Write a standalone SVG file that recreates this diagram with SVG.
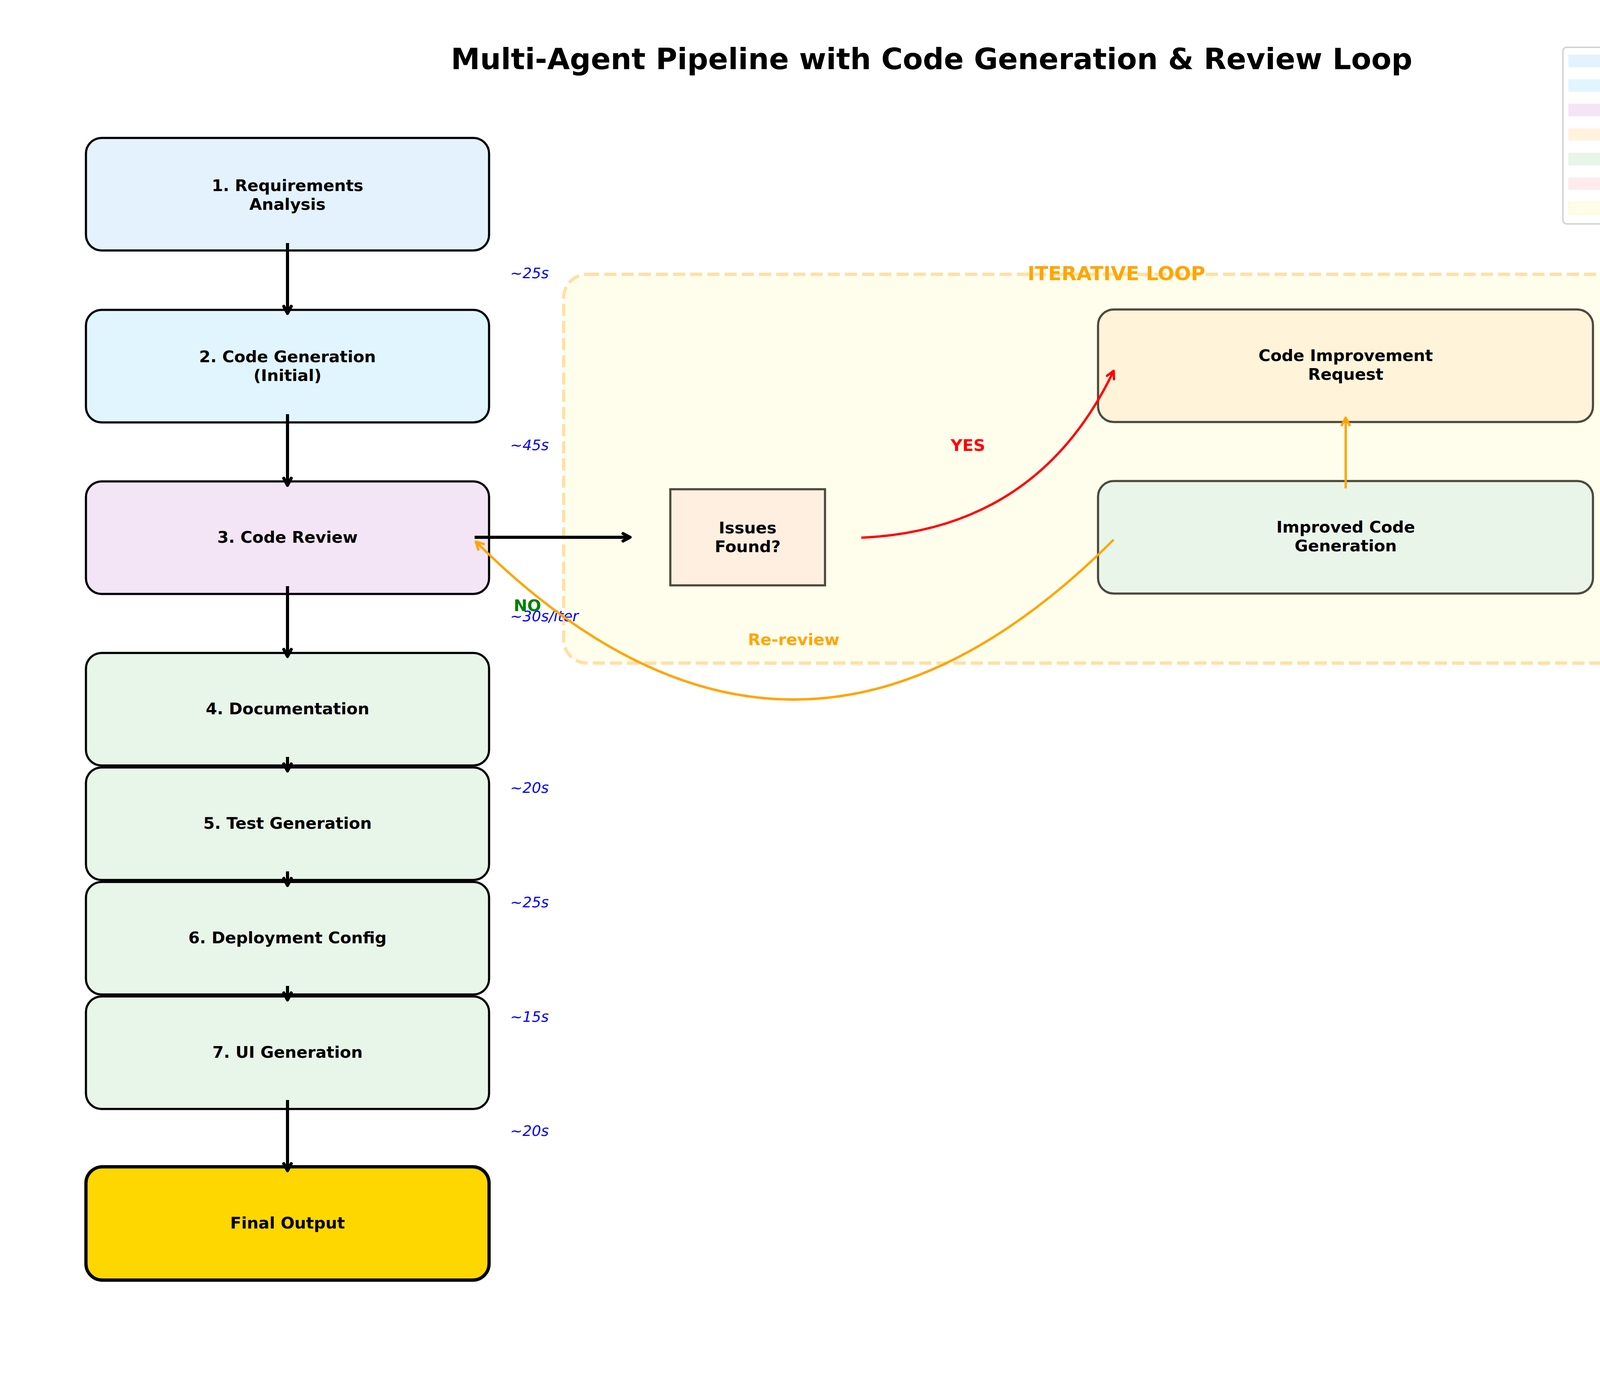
<svg xmlns="http://www.w3.org/2000/svg" width="4770" height="3570" viewBox="0 0 4770 3570">
<style>
text{font-family:"DejaVu Sans","Liberation Sans",sans-serif}
.node{stroke:#000;stroke-width:5.5}
.inner{stroke:#4C4A3C;stroke-width:5.5}
.lbl{font-size:41.67px;font-weight:bold;fill:#000;text-anchor:middle}
.time{font-size:37.5px;font-style:italic;fill:#0000FF}
.leg{font-size:41.67px;fill:#000}
.conn{fill:none;stroke-width:8;stroke-linecap:butt}
.conn-c{fill:none;stroke-width:6;stroke-linecap:butt}
</style>
<defs>
<marker id="ah-black" viewBox="-32 -20 40 40" markerWidth="40" markerHeight="40" refX="0" refY="0" orient="auto" markerUnits="userSpaceOnUse"><path d="M-18,-9.5 L0,0 L-18,9.5" fill="none" stroke="#000" stroke-width="8" stroke-linejoin="round" stroke-linecap="round"/></marker>
<marker id="ah-red" viewBox="-32 -20 40 40" markerWidth="40" markerHeight="40" refX="0" refY="0" orient="auto" markerUnits="userSpaceOnUse"><path d="M-19,-10 L0,0 L-19,10" fill="none" stroke="#FF0000" stroke-width="6" stroke-linejoin="round" stroke-linecap="round"/></marker>
<marker id="ah-orange" viewBox="-32 -20 40 40" markerWidth="40" markerHeight="40" refX="0" refY="0" orient="auto" markerUnits="userSpaceOnUse"><path d="M-19,-10 L0,0 L-19,10" fill="none" stroke="#FFA500" stroke-width="6" stroke-linejoin="round" stroke-linecap="round"/></marker>
</defs>
<rect width="4770" height="3570" fill="#FFFFFF"/>

<text x="2385" y="177" font-size="75" font-weight="bold" text-anchor="middle" fill="#000">Multi-Agent Pipeline with Code Generation &amp; Review Loop</text>

<g id="iterative-loop">
<rect x="1443" y="702" width="2779" height="995" rx="60" fill="#FFFDEC" stroke="#FFE0A5" stroke-width="8.3" stroke-dasharray="31 13"/>
<text x="2858" y="717" font-size="50" font-weight="bold" text-anchor="middle" fill="#FFA500">ITERATIVE LOOP</text>
</g>

<g id="node-requirements">
<rect class="node" x="220" y="353" width="1032" height="288" rx="40" fill="#E3F2FD"/>
<text class="lbl" x="736" y="489">1. Requirements</text>
<text class="lbl" x="736" y="537">Analysis</text>
</g>
<g id="node-codegen">
<rect class="node" x="220" y="793" width="1032" height="288" rx="40" fill="#E1F5FE"/>
<text class="lbl" x="736" y="927">2. Code Generation</text>
<text class="lbl" x="736" y="975">(Initial)</text>
</g>
<g id="node-review">
<rect class="node" x="220" y="1232" width="1032" height="288" rx="40" fill="#F3E5F5"/>
<text class="lbl" x="736" y="1389">3. Code Review</text>
</g>
<g id="node-docs">
<rect class="node" x="220" y="1671" width="1032" height="288" rx="40" fill="#E8F5E9"/>
<text class="lbl" x="736" y="1828">4. Documentation</text>
</g>
<g id="node-tests">
<rect class="node" x="220" y="1964" width="1032" height="288" rx="40" fill="#E8F5E9"/>
<text class="lbl" x="736" y="2121">5. Test Generation</text>
</g>
<g id="node-deploy">
<rect class="node" x="220" y="2257" width="1032" height="288" rx="40" fill="#E8F5E9"/>
<text class="lbl" x="736" y="2414">6. Deployment Config</text>
</g>
<g id="node-ui">
<rect class="node" x="220" y="2550" width="1032" height="288" rx="40" fill="#E8F5E9"/>
<text class="lbl" x="736" y="2707">7. UI Generation</text>
</g>
<g id="node-final">
<rect x="220" y="2986" width="1032" height="290" rx="42" fill="#FFD700" stroke="#000" stroke-width="8.3"/>
<text class="lbl" x="736" y="3144">Final Output</text>
</g>

<g id="node-decision">
<rect class="inner" x="1716" y="1252" width="396" height="246" fill="#FFEFE0"/>
<text class="lbl" x="1914" y="1365">Issues</text>
<text class="lbl" x="1914" y="1413">Found?</text>
</g>
<g id="node-improve-request">
<rect class="inner" x="2811" y="792" width="1267" height="288" rx="40" fill="#FFF3DA"/>
<text class="lbl" x="3445" y="924">Code Improvement</text>
<text class="lbl" x="3445" y="972">Request</text>
</g>
<g id="node-improved-gen">
<rect class="inner" x="2811" y="1231" width="1267" height="288" rx="40" fill="#EAF5EA"/>
<text class="lbl" x="3445" y="1363">Improved Code</text>
<text class="lbl" x="3445" y="1411">Generation</text>
</g>

<g id="time-labels">
<text class="time" x="1306" y="712">~25s</text>
<text class="time" x="1306" y="1152">~45s</text>
<text class="time" x="1306" y="1590">~30s/iter</text>
<text class="time" x="1306" y="2029">~20s</text>
<text class="time" x="1306" y="2322">~25s</text>
<text class="time" x="1306" y="2615">~15s</text>
<text class="time" x="1306" y="2907">~20s</text>
</g>

<g id="connectors">
<path class="conn" stroke="#000" marker-end="url(#ah-black)" d="M736,622 L736,802"/>
<path class="conn" stroke="#000" marker-end="url(#ah-black)" d="M736,1060 L736,1242"/>
<path class="conn" stroke="#000" marker-end="url(#ah-black)" d="M736,1500 L736,1680"/>
<path class="conn" stroke="#000" marker-end="url(#ah-black)" d="M736,1937 L736,1973"/>
<path class="conn" stroke="#000" marker-end="url(#ah-black)" d="M736,2230 L736,2266"/>
<path class="conn" stroke="#000" marker-end="url(#ah-black)" d="M736,2523 L736,2559"/>
<path class="conn" stroke="#000" marker-end="url(#ah-black)" d="M736,2815 L736,2996"/>
<path class="conn" stroke="#000" marker-end="url(#ah-black)" d="M1215,1375 L1613,1375"/>
<path class="conn-c" stroke="#FF0000" marker-end="url(#ah-red)" d="M2205,1376 Q2656,1356 2851,949"/>
<path class="conn-c" stroke="#FFA500" marker-end="url(#ah-orange)" d="M3445,1250 L3445,1069"/>
<path class="conn-c" stroke="#FFA500" marker-end="url(#ah-orange)" d="M2851,1381 Q2034,2197 1218,1386"/>
<text x="2478" y="1154" font-size="41.67" font-weight="bold" text-anchor="middle" fill="#FF0000">YES</text>
<text x="1315" y="1564" font-size="41.67" font-weight="bold" fill="#008000">NO</text>
<text x="2032" y="1651" font-size="41.67" font-weight="bold" text-anchor="middle" fill="#FFA500">Re-review</text>
</g>

<g id="legend">
<rect x="4001" y="121" width="624" height="452" rx="10" fill="#FFFFFF" stroke="#D0D0D0" stroke-width="3.5"/>
<rect x="4015" y="140" width="88" height="32" fill="#E3F2FD"/>
<text class="leg" x="4135" y="171.5">Requirements Analysis</text>
<rect x="4015" y="203" width="88" height="32" fill="#E1F5FE"/>
<text class="leg" x="4135" y="234.3">Code Generation</text>
<rect x="4015" y="265.6" width="88" height="32" fill="#F3E5F5"/>
<text class="leg" x="4135" y="297.1">Code Review</text>
<rect x="4015" y="328.4" width="88" height="32" fill="#FFF3E0"/>
<text class="leg" x="4135" y="359.9">Code Improvement</text>
<rect x="4015" y="391.2" width="88" height="32" fill="#E8F5E9"/>
<text class="leg" x="4135" y="422.7">Other Pipeline Steps</text>
<rect x="4015" y="454" width="88" height="32" fill="#FFEBEE"/>
<text class="leg" x="4135" y="485.5">Decision Point</text>
<rect x="4016" y="517.8" width="86" height="30" fill="#FFFDE7" stroke="#FFF8D6" stroke-width="2"/>
<text class="leg" x="4135" y="548.3">Iterative Loop</text>
</g>
</svg>
